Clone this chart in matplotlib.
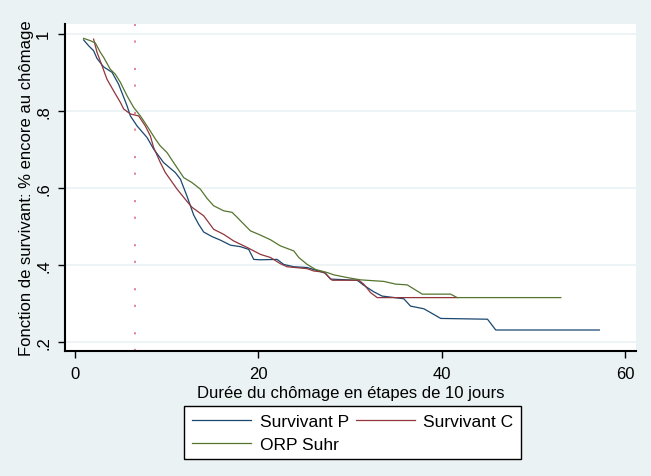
import matplotlib
matplotlib.use("Agg")
import matplotlib.pyplot as plt

plt.rcParams['font.family'] = ['Liberation Sans', 'DejaVu Sans']

# Survivant P
p_x = [0.94, 1.48, 2.03, 2.40, 3.12, 4.04, 4.76, 5.68, 6.04, 6.77, 7.86, 8.58, 9.67, 10.95, 11.5, 12.2,
       12.95, 13.49, 14.04, 14.96, 15.86, 16.95, 18.05, 18.95, 19.5, 20.2, 22.05, 22.77, 23.86, 25.33,
       26.97, 27.33, 27.87, 30.79, 31.5, 32.6, 33.5, 35.87, 36.6, 38.06, 38.8, 39.9, 45.0, 45.9, 57.2]
p_y = [0.984, 0.969, 0.956, 0.936, 0.914, 0.900, 0.869, 0.813, 0.787, 0.761, 0.731, 0.701, 0.666, 0.640,
       0.623, 0.580, 0.530, 0.506, 0.486, 0.474, 0.465, 0.452, 0.448, 0.441, 0.415, 0.414, 0.415, 0.402,
       0.396, 0.394, 0.382, 0.379, 0.364, 0.361, 0.348, 0.331, 0.320, 0.313, 0.294, 0.287, 0.277, 0.262,
       0.260, 0.232, 0.232]

# Survivant C
c_x = [2.03, 2.40, 2.95, 3.49, 4.21, 4.95, 5.31, 6.04, 6.94, 7.67, 8.22, 8.58, 9.31, 9.86, 11.14, 12.23,
       12.77, 14.04, 15.13, 16.22, 17.3, 18.78, 20.23, 21.32, 22.4, 23.14, 25.33, 26.05, 27.14, 28.06,
       30.96, 31.5, 32.24, 32.97, 41.7]
c_y = [0.986, 0.952, 0.917, 0.882, 0.852, 0.822, 0.805, 0.792, 0.787, 0.761, 0.735, 0.705, 0.666, 0.640,
       0.597, 0.565, 0.550, 0.528, 0.493, 0.480, 0.463, 0.446, 0.428, 0.420, 0.404, 0.396, 0.391, 0.385,
       0.382, 0.361, 0.361, 0.351, 0.329, 0.316, 0.316]

# ORP Suhr
o_x = [0.94, 1.67, 2.22, 2.76, 3.12, 3.85, 4.40, 4.95, 5.68, 6.40, 7.13, 7.86, 8.77, 9.31, 10.04, 10.76,
       11.86, 12.77, 13.68, 14.41, 15.13, 16.22, 17.14, 17.69, 19.14, 20.23, 21.32, 22.41, 23.87, 24.41,
       25.33, 26.23, 27.51, 28.23, 29.69, 31.15, 33.69, 34.97, 36.24, 37.34, 37.88, 40.97, 41.7, 53.0]
o_y = [0.988, 0.982, 0.976, 0.952, 0.939, 0.908, 0.895, 0.874, 0.839, 0.809, 0.787, 0.761, 0.727, 0.709,
       0.692, 0.666, 0.627, 0.614, 0.597, 0.573, 0.554, 0.541, 0.537, 0.524, 0.489, 0.478, 0.466, 0.450,
       0.437, 0.420, 0.402, 0.389, 0.381, 0.375, 0.368, 0.362, 0.358, 0.351, 0.349, 0.333, 0.325, 0.325,
       0.316, 0.316]

series_labels = ["Survivant P", "Survivant C", "ORP Suhr"]
x_ticks = [0, 20, 40, 60]
y_ticks = [0.2, 0.4, 0.6, 0.8, 1.0]
y_ticklabels = [".2", ".4", ".6", ".8", "1"]
vline_x = 6.5

BG = "#eaf2f3"
fig = plt.figure(figsize=(6.51, 4.77), dpi=100, facecolor=BG)
ax = fig.add_axes([65/651, 1-352/477, (636-65)/651, (352-24.7)/477])
ax.set_facecolor("white")

for y in y_ticks:
    ax.axhline(y, color=BG, lw=1.2, zorder=0)

ax.axvline(vline_x, color="#e0789a", lw=1.3, ls=(0, (1.2, 8, 1.2, 14)), zorder=1)

l1, = ax.plot(p_x, p_y, color="#1a476f", lw=0.9, zorder=2)
l2, = ax.plot(c_x, c_y, color="#90353b", lw=0.9, zorder=2)
l3, = ax.plot(o_x, o_y, color="#55752f", lw=0.9, zorder=3)

ax.set_xlim(-1.09, 61.2)
ax.set_ylim(0.1776, 1.026)
ax.set_xticks(x_ticks)
ax.set_xticklabels([str(v) for v in x_ticks])
ax.set_yticks(y_ticks)
ax.set_yticklabels(y_ticklabels, rotation=90, va="center")

for s in ["top", "right"]:
    ax.spines[s].set_visible(False)
for s in ["left", "bottom"]:
    ax.spines[s].set_linewidth(1.5)
    ax.spines[s].set_color("black")

ax.tick_params(axis="both", length=5, width=1.0, labelsize=12)
ax.tick_params(axis="x", pad=6)
ax.tick_params(axis="y", pad=5)
ax.set_xlabel("Durée du chômage en étapes de 10 jours", fontsize=12, labelpad=3)
ax.set_ylabel("Fonction de survivant: % encore au chômage", fontsize=12)
ax.yaxis.set_label_coords(-0.055, 0.5)

# column-first fill: col1 = P, ORP ; col2 = C  -> rows: (P, C), (ORP)
leg = fig.legend([l1, l3, l2], [series_labels[0], series_labels[2], series_labels[1]],
                 ncol=2, loc="upper left",
                 bbox_to_anchor=(184/651, 1-406.7/477), frameon=True, fancybox=False,
                 edgecolor="black", facecolor="white", framealpha=1, fontsize=12.5,
                 handlelength=3.4, handletextpad=0.5, columnspacing=0.4,
                 borderpad=0.45, labelspacing=0.45, borderaxespad=0)
leg.get_frame().set_linewidth(1.0)

fig.savefig("out.png", dpi=100, facecolor=BG)
